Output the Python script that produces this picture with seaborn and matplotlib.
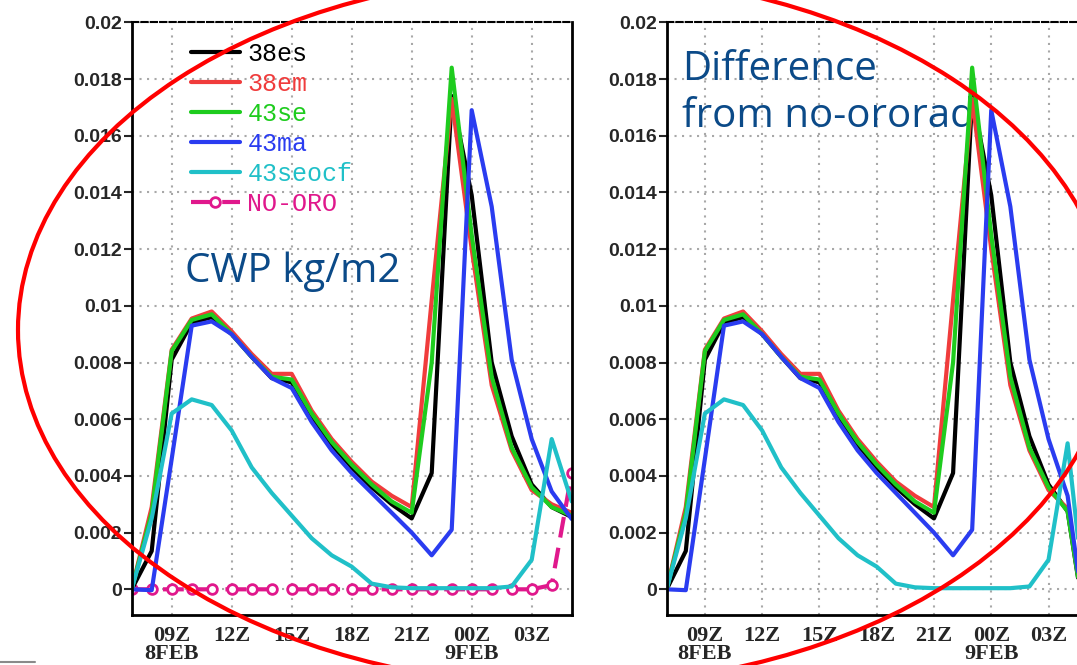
import matplotlib
matplotlib.use("Agg")
import matplotlib.pyplot as plt
import seaborn as sns
import numpy as np
from matplotlib.patches import Ellipse
from matplotlib.lines import Line2D

# hourly times, 07Z 8FEB .. 05Z 9FEB (hours since 00Z 8FEB)
hours = list(range(7, 30))

es38 = [0, 0.00135, 0.0081, 0.0094, 0.0096, 0.0090, 0.0082, 0.00745, 0.0073, 0.0061, 0.0051, 0.0043,
        0.0036, 0.0030, 0.0025, 0.0041, 0.0174, 0.0139, 0.0080, 0.0054, 0.0037, 0.0029, 0.00255]
em38 = [0, 0.0029, 0.00845, 0.00955, 0.0098, 0.0091, 0.0083, 0.0076, 0.0076, 0.0063, 0.0053, 0.0045,
        0.0038, 0.0033, 0.0029, 0.0102, 0.0173, 0.0120, 0.0072, 0.0049, 0.0035, 0.0030, 0.0027]
se43 = [0, 0.0027, 0.0084, 0.0095, 0.0097, 0.0090, 0.0082, 0.0075, 0.0074, 0.0062, 0.0052, 0.0044,
        0.0037, 0.0031, 0.0027, 0.0080, 0.0184, 0.0125, 0.0075, 0.0050, 0.0036, 0.0029, 0.0026]
ma43 = [0, -0.00003, 0.0046, 0.0093, 0.00945, 0.0090, 0.0082, 0.00745, 0.0071, 0.0059, 0.0049, 0.0041,
        0.0034, 0.0027, 0.0020, 0.0012, 0.0021, 0.0169, 0.0135, 0.0081, 0.0053, 0.00345, 0.00248]
seocf43 = [0, 0.0025, 0.0062, 0.0067, 0.0065, 0.0056, 0.0043, 0.0034, 0.0026, 0.0018, 0.0012, 0.0008,
           0.0002, 0.00007, 0.00004, 0.00004, 0.00004, 0.00004, 0.00004, 0.0001, 0.00104, 0.0053, 0.0031]
nooro = [0, 0, 0, 0, 0, 0, 0, 0, 0, 0, 0, 0,
         0, 0, 0, 0, 0, 0, 0, 0, 0, 0.00015, 0.0041]

names = ['38es', '38em', '43se', '43ma', '43seocf']
colors = ['black', '#f03c3c', '#1ecc1e', '#2a3cf0', '#20c0c8']
runs = [es38, em38, se43, ma43, seocf43]
noro_name, noro_color = 'NO-ORO', '#e0188c'

xticks = [9, 12, 15, 18, 21, 24, 27]
xlabels = ['09Z\n8FEB', '12Z', '15Z', '18Z', '21Z', '00Z\n9FEB', '03Z']
yticks = [0, 0.002, 0.004, 0.006, 0.008, 0.01, 0.012, 0.014, 0.016, 0.018, 0.02]

sns.set_style('white')

W, H = 1077, 665
fig = plt.figure(figsize=(W / 100, H / 100), dpi=100)


def px(x0, y0, x1, y1):
    return [x0 / W, 1 - y1 / H, (x1 - x0) / W, (y1 - y0) / H]


ax1 = fig.add_axes(px(131.7, 22.3, 571.7, 615))
ax2 = fig.add_axes(px(666.7, 22.3, 1086.7, 615))

# left: raw CWP with NO-ORO run
sns.lineplot(x=hours, y=nooro, ax=ax1, color=noro_color, lw=3, linestyle=(0, (5, 2.5)),
             marker='o', ms=7, mfc='white', mec=noro_color, mew=2, label=noro_name)
for n, v, c in zip(names, runs, colors):
    sns.lineplot(x=hours, y=v, ax=ax1, color=c, lw=3, label=n)

# right: difference from NO-ORO
for n, v, c in zip(names, runs, colors):
    diff = np.array(v) - np.array(nooro)
    sns.lineplot(x=hours, y=diff, ax=ax2, color=c, lw=3, legend=False)

for ax in (ax1, ax2):
    ax.set_xlim(7, 29)
    ax.set_ylim(-0.000906, 0.02)
    ax.set_xticks(xticks)
    ax.set_xticklabels(xlabels, fontfamily='Liberation Serif', fontweight='bold',
                       fontsize=16, linespacing=0.88)
    ax.set_yticks(yticks)
    ax.set_yticklabels([f'{v:g}' for v in yticks], fontfamily='Liberation Sans',
                       fontweight='bold', fontsize=14)
    ax.tick_params(axis='y', direction='out', length=6, width=1.5, pad=1, left=True)
    ax.tick_params(axis='x', length=0, pad=8)
    ax.grid(True, color='#a8a8a8', linestyle=(0, (1, 2.6)), lw=1.5)
    ax.set_axisbelow(True)
    for s in ax.spines.values():
        s.set_visible(True)
        s.set_color('black')
        s.set_linewidth(2)
    ax.spines['top'].set_linestyle((0, (3, 1.5)))
    ax.spines['top'].set_linewidth(1.5)
    ax.set_xlabel('')
    ax.set_ylabel('')

handles, labels = ax1.get_legend_handles_labels()
order = [labels.index(n) for n in names + [noro_name]]
leg = ax1.legend([handles[i] for i in order], [labels[i] for i in order],
                 loc='upper left', bbox_to_anchor=(0.135, 0.967), frameon=False,
                 prop={'family': 'Liberation Mono', 'size': 18},
                 handlelength=1.95, handletextpad=0.3, labelspacing=0.24,
                 borderpad=0, borderaxespad=0, labelcolor='linecolor')

title_color = '#0b4a88'
ax1.text(185 / W, 1 - 281.7 / H, 'CWP kg/m2', transform=fig.transFigure, fontsize=29,
         fontfamily='Open Sans', color=title_color, va='baseline', zorder=1)
ax2.text(682 / W, 1 - 80 / H, 'Difference', transform=fig.transFigure, fontsize=29,
         fontfamily='Open Sans', color=title_color, va='baseline', zorder=1)
ax2.text(682 / W, 1 - 127 / H, 'from no-ororad', transform=fig.transFigure, fontsize=29,
         fontfamily='Open Sans', color=title_color, va='baseline', zorder=1)

# red ellipse drawn over the slide
fig.add_artist(Ellipse((565 / W, 1 - 330 / H), 1094 / W, 711 / H, transform=fig.transFigure,
                       fill=False, edgecolor='#ff0000', lw=3, zorder=10))
fig.add_artist(Line2D([0, 35 / W], [1 - 662 / H, 1 - 662 / H], transform=fig.transFigure,
                      color='#8a8a8a', lw=1.5))

fig.savefig('out.png', dpi=100, facecolor='white')
